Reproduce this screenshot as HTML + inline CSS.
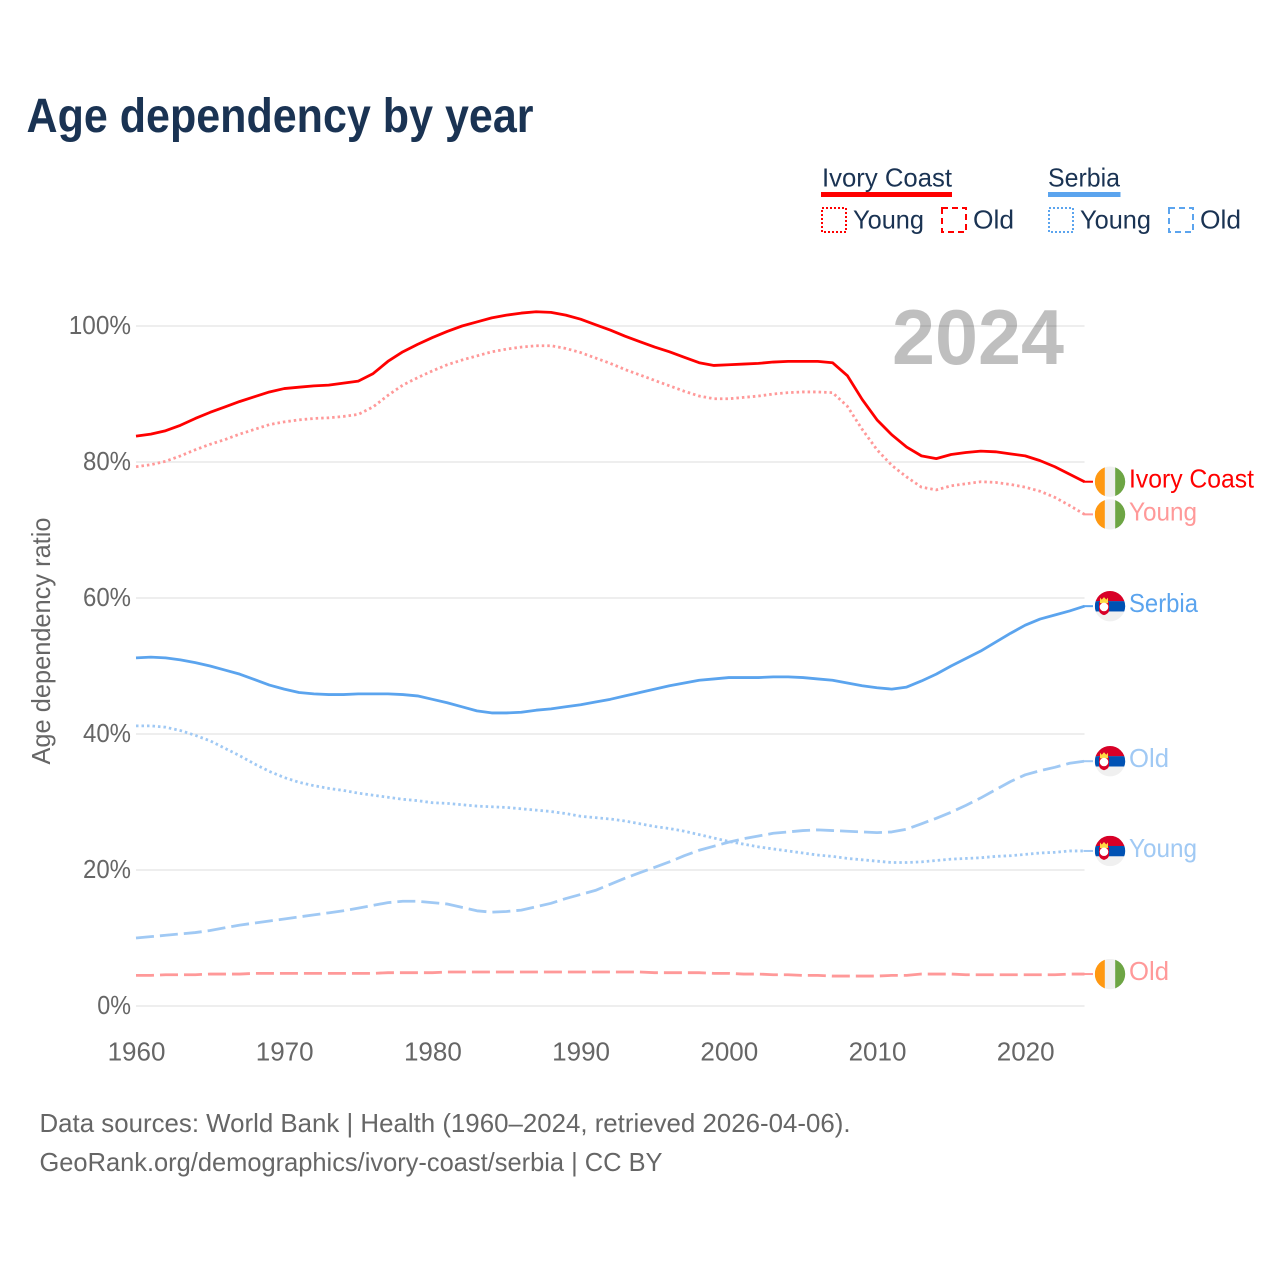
<!DOCTYPE html>
<html lang="en">
<head>
<meta charset="utf-8">
<title>Age dependency by year</title>
<style>
html,body{margin:0;padding:0;background:#fff;}
svg{display:block;font-family:"Liberation Sans",sans-serif;}
</style>
</head>
<body>
<svg id="chart" width="1280" height="1280" viewBox="0 0 1280 1280" xmlns="http://www.w3.org/2000/svg">
  <rect x="0" y="0" width="1280" height="1280" fill="#ffffff"/>
  <text x="26.500" y="132" font-size="48" font-weight="700" fill="#1a3353" textLength="507" lengthAdjust="spacingAndGlyphs">Age dependency by year</text>

  <g font-size="26" fill="#1a3353">
    <text x="822" y="186.500" textLength="130" lengthAdjust="spacingAndGlyphs">Ivory Coast</text>
    <rect x="821" y="192" width="131" height="5" fill="#ff0000"/>
    <rect x="822" y="208" width="24" height="24" fill="none" stroke="#ff0000" stroke-width="2" stroke-dasharray="2 2"/>
    <text x="853" y="228.500" textLength="71" lengthAdjust="spacingAndGlyphs">Young</text>
    <rect x="942" y="208" width="24" height="24" fill="none" stroke="#ff0000" stroke-width="2" stroke-dasharray="6 4"/>
    <text x="973" y="228.500" textLength="41" lengthAdjust="spacingAndGlyphs">Old</text>

    <text x="1048" y="186.500" textLength="72" lengthAdjust="spacingAndGlyphs">Serbia</text>
    <rect x="1048" y="192" width="72.500" height="5" fill="#5ba4ee"/>
    <rect x="1049" y="208" width="24" height="24" fill="none" stroke="#5ba4ee" stroke-width="2" stroke-dasharray="2 2"/>
    <text x="1080" y="228.500" textLength="71" lengthAdjust="spacingAndGlyphs">Young</text>
    <rect x="1169" y="208" width="24" height="24" fill="none" stroke="#5ba4ee" stroke-width="2" stroke-dasharray="6 4"/>
    <text x="1200" y="228.500" textLength="41" lengthAdjust="spacingAndGlyphs">Old</text>
  </g>

  <g id="grid"></g>
  <g id="yticks" font-size="26" fill="#666666"></g>
  <g id="xticks" font-size="26" fill="#666666"></g>

  <text transform="translate(50 641) rotate(-90)" text-anchor="middle" font-size="26" fill="#666666" textLength="247" lengthAdjust="spacingAndGlyphs">Age dependency ratio</text>

  <text x="892" y="364" font-size="78" font-weight="700" fill="#000000" fill-opacity="0.25" textLength="172" lengthAdjust="spacingAndGlyphs">2024</text>

  <g id="series"></g>
  <g id="endlabels"></g>

  <text x="39.500" y="1132" font-size="26" fill="#666666" textLength="811" lengthAdjust="spacingAndGlyphs">Data sources: World Bank | Health (1960–2024, retrieved 2026-04-06).</text>
  <text x="39.500" y="1171" font-size="26" fill="#666666" textLength="623" lengthAdjust="spacingAndGlyphs">GeoRank.org/demographics/ivory-coast/serbia | CC BY</text>
</svg>

<script>
const years = [1960,1961,1962,1963,1964,1965,1966,1967,1968,1969,1970,1971,1972,1973,1974,1975,1976,1977,1978,1979,1980,1981,1982,1983,1984,1985,1986,1987,1988,1989,1990,1991,1992,1993,1994,1995,1996,1997,1998,1999,2000,2001,2002,2003,2004,2005,2006,2007,2008,2009,2010,2011,2012,2013,2014,2015,2016,2017,2018,2019,2020,2021,2022,2023,2024];
const ivoryCoastTotal = [83.8,84.1,84.6,85.4,86.4,87.3,88.1,88.9,89.6,90.3,90.8,91.0,91.2,91.3,91.6,91.9,93.0,94.8,96.2,97.3,98.3,99.2,100.0,100.6,101.2,101.6,101.9,102.1,102.0,101.6,101.0,100.2,99.4,98.5,97.7,96.9,96.2,95.4,94.6,94.2,94.3,94.4,94.5,94.7,94.8,94.8,94.8,94.6,92.7,89.2,86.2,84.0,82.2,80.9,80.5,81.1,81.4,81.6,81.5,81.2,80.9,80.2,79.3,78.2,77.1];
const ivoryCoastYoung = [79.3,79.6,80.1,80.9,81.8,82.6,83.3,84.1,84.8,85.5,85.9,86.2,86.4,86.5,86.7,87.0,88.1,89.8,91.3,92.4,93.4,94.3,95.0,95.6,96.2,96.6,96.9,97.1,97.1,96.7,96.1,95.3,94.5,93.6,92.8,92.0,91.2,90.4,89.7,89.3,89.3,89.5,89.7,90.0,90.2,90.3,90.3,90.2,88.2,84.8,81.8,79.5,77.8,76.3,75.9,76.5,76.8,77.1,77.0,76.7,76.3,75.7,74.8,73.6,72.3];
const ivoryCoastOld = [4.5,4.5,4.6,4.6,4.6,4.7,4.7,4.7,4.8,4.8,4.8,4.8,4.8,4.8,4.8,4.8,4.8,4.9,4.9,4.9,4.9,5.0,5.0,5.0,5.0,5.0,5.0,5.0,5.0,5.0,5.0,5.0,5.0,5.0,5.0,4.9,4.9,4.9,4.9,4.8,4.8,4.7,4.7,4.6,4.6,4.5,4.5,4.4,4.4,4.4,4.4,4.5,4.5,4.7,4.7,4.7,4.6,4.6,4.6,4.6,4.6,4.6,4.6,4.7,4.7];
const serbiaTotal = [51.2,51.3,51.2,50.9,50.5,50.0,49.4,48.8,48.0,47.2,46.6,46.1,45.9,45.8,45.8,45.9,45.9,45.9,45.8,45.6,45.1,44.6,44.0,43.4,43.1,43.1,43.2,43.5,43.7,44.0,44.3,44.7,45.1,45.6,46.1,46.6,47.1,47.5,47.9,48.1,48.3,48.3,48.3,48.4,48.4,48.3,48.1,47.9,47.5,47.1,46.8,46.6,46.9,47.8,48.8,50.0,51.1,52.2,53.5,54.8,56.0,56.9,57.5,58.1,58.8];
const serbiaYoung = [41.2,41.2,41.0,40.5,39.8,39.0,37.9,36.8,35.6,34.5,33.6,32.9,32.4,32.0,31.7,31.3,31.0,30.7,30.4,30.2,29.9,29.8,29.6,29.4,29.3,29.2,29.0,28.8,28.6,28.3,27.9,27.7,27.5,27.2,26.8,26.4,26.1,25.7,25.2,24.7,24.2,23.8,23.4,23.1,22.8,22.5,22.2,22.0,21.7,21.5,21.3,21.1,21.1,21.2,21.4,21.6,21.7,21.8,22.0,22.1,22.3,22.5,22.6,22.8,22.8];
const serbiaOld = [10.0,10.2,10.4,10.6,10.8,11.1,11.5,11.9,12.2,12.5,12.8,13.1,13.4,13.7,14.0,14.4,14.8,15.2,15.4,15.4,15.2,15.0,14.5,14.0,13.8,13.9,14.1,14.6,15.1,15.8,16.4,17.0,17.9,18.8,19.6,20.4,21.2,22.1,22.9,23.5,24.1,24.6,25.0,25.4,25.6,25.8,25.9,25.8,25.7,25.6,25.5,25.6,26.0,26.8,27.6,28.5,29.5,30.6,31.8,33.0,34.0,34.6,35.1,35.7,36.0];
const yTickValues = [0,20,40,60,80,100];
const xTickValues = [1960,1970,1980,1990,2000,2010,2020];

const NS = 'http://www.w3.org/2000/svg';
const x = v => 136 + (v - 1960) * 14.82;
const y = v => 1006 - v * 6.8;

function make(tag, attrs, parent, text) {
  const el = document.createElementNS(NS, tag);
  for (const k in attrs) el.setAttribute(k, attrs[k]);
  if (text !== undefined) el.textContent = text;
  parent.appendChild(el);
  return el;
}

const gridG = document.getElementById('grid');
const yG = document.getElementById('yticks');
const xG = document.getElementById('xticks');
const seriesG = document.getElementById('series');
const endG = document.getElementById('endlabels');

yTickValues.forEach(t => {
  const line = make('line', {x1: x(1960), x2: x(2024), y1: y(t), y2: y(t), stroke: '#eeeeee', 'stroke-width': 2}, gridG);
  
  
  const label = t + '%';
  const lab = make('text', {x: 131, y: y(t) + 8, 'text-anchor': 'end', textLength: (label.length - 1) * 14.25 + 19.5, lengthAdjust: 'spacingAndGlyphs'}, yG, label);
  
  
});

xTickValues.forEach(t => {
  const lab = make('text', {x: x(t) + 0.5, y: 1060.5, 'text-anchor': 'middle'}, xG, String(t));
  
  
});

function drawSeries(name, values, color, width, dash) {
  const d = values.map((v, i) => (i ? 'L' : 'M') + x(years[i]).toFixed(2) + ' ' + y(v).toFixed(2)).join('');
  const path = make('path', {d: d, fill: 'none', stroke: color, 'stroke-width': width, 'stroke-linejoin': 'round'}, seriesG);
  if (dash) path.setAttribute('stroke-dasharray', dash);
  
  
  const last = values[values.length - 1];
  const stub = make('line', {x1: x(2024) - 1, x2: 1093, y1: y(last), y2: y(last), stroke: color, 'stroke-width': 2}, seriesG);
  
  
}

function drawFlag(name, kind, cy) {
  const cx = 1110, r = 15.200;
  const g = make('g', {}, endG);
  
  
  const clipId = 'clip-' + name;
  const defs = make('defs', {}, g);
  const clip = make('clipPath', {id: clipId}, defs);
  make('circle', {cx: cx, cy: cy, r: r}, clip);
  const inner = make('g', {'clip-path': 'url(#' + clipId + ')'}, g);
  if (kind === 'ci') {
    make('rect', {x: cx - r, y: cy - r, width: 31, height: 31, fill: '#f0f0f0'}, inner);
    make('rect', {x: cx - r, y: cy - r, width: 10, height: 31, fill: '#ff9811'}, inner);
    make('rect', {x: cx + 5.200, y: cy - r, width: 10.500, height: 31, fill: '#6da544'}, inner);
  } else {
    make('rect', {x: cx - r, y: cy - r, width: 31, height: 31, fill: '#f0f0f0'}, inner);
    make('rect', {x: cx - r, y: cy - r, width: 31, height: 10.300, fill: '#d80027'}, inner);
    make('rect', {x: cx - r, y: cy - 5, width: 31, height: 10.300, fill: '#0052b4'}, inner);
    make('path', {d: `M${cx - 11} ${cy - 4}h10v8q0 3.500-5 5q-5-1.500-5-5z`, fill: '#d80027'}, inner);
    make('path', {d: `M${cx - 10} ${cy - 8.500}l1.700 2l2.300-2.500l2.300 2.500l1.700-2v5.500h-8z`, fill: '#ffda44'}, inner);
    make('circle', {cx: cx - 6, cy: cy + 0.800, r: 4.300, fill: '#ffffff'}, inner);
  }
}

function drawEndLabel(name, text, color, width, value, kind) {
  const cy = y(value);
  drawFlag(name, kind, cy);
  const t = make('text', {x: 1129, y: cy + 6, 'font-size': 26, fill: color, textLength: width, lengthAdjust: 'spacingAndGlyphs'}, endG, text);
  
  
}

const redFull = '#ff0000', redLight = '#ff9999', blueFull = '#5ba4ee', blueLight = '#a0c9f4';
const DOT = '2.500 3', DASH = '18 6';

drawSeries('ivory-coast-old', ivoryCoastOld, redLight, 2.800, DASH);
drawSeries('serbia-old', serbiaOld, blueLight, 2.800, DASH);
drawSeries('serbia-young', serbiaYoung, blueLight, 2.800, DOT);
drawSeries('ivory-coast-young', ivoryCoastYoung, redLight, 2.800, DOT);
drawSeries('serbia-total', serbiaTotal, blueFull, 2.800, null);
drawSeries('ivory-coast-total', ivoryCoastTotal, redFull, 2.800, null);

drawEndLabel('ivory-coast-total', 'Ivory Coast', redFull, 125, ivoryCoastTotal[ivoryCoastTotal.length - 1], 'ci');
drawEndLabel('ivory-coast-young', 'Young', redLight, 68, ivoryCoastYoung[ivoryCoastYoung.length - 1], 'ci');
drawEndLabel('ivory-coast-old', 'Old', redLight, 40, ivoryCoastOld[ivoryCoastOld.length - 1], 'ci');
drawEndLabel('serbia-total', 'Serbia', blueFull, 69, serbiaTotal[serbiaTotal.length - 1], 'rs');
drawEndLabel('serbia-old', 'Old', blueLight, 40, serbiaOld[serbiaOld.length - 1], 'rs');
drawEndLabel('serbia-young', 'Young', blueLight, 68, serbiaYoung[serbiaYoung.length - 1], 'rs');
</script>
</body>
</html>
